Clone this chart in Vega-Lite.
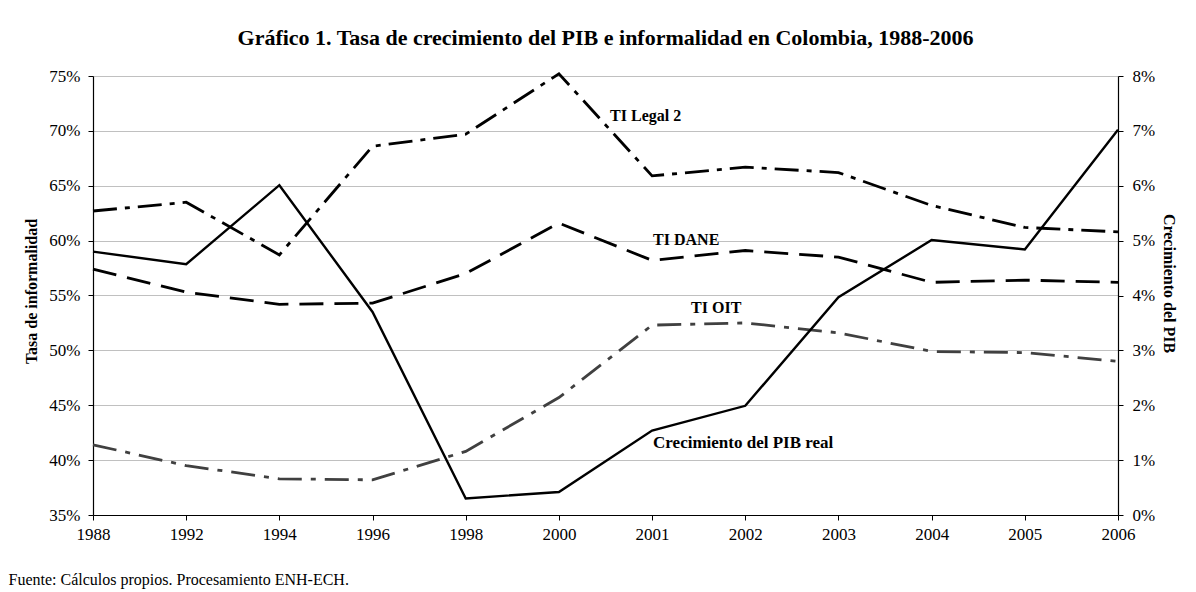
{
  "$schema": "https://vega.github.io/schema/vega-lite/v6.json",
  "autosize": {"type": "none"},
  "width": 1025,
  "height": 439,
  "padding": {"left": 93, "top": 76, "right": 78, "bottom": 77},
  "background": "white",
  "title": {
    "text": "Gráfico 1. Tasa de crecimiento del PIB e informalidad en Colombia, 1988-2006",
    "font": "Liberation Serif",
    "fontSize": 22,
    "fontWeight": "bold",
    "color": "black",
    "anchor": "middle",
    "baseline": "alphabetic",
    "offset": 0
  },
  "datasets": {
    "ti": [
      {"year": "1988", "serie": "TI Legal 2", "value": 0.627},
      {"year": "1992", "serie": "TI Legal 2", "value": 0.635},
      {"year": "1994", "serie": "TI Legal 2", "value": 0.587},
      {"year": "1996", "serie": "TI Legal 2", "value": 0.686},
      {"year": "1998", "serie": "TI Legal 2", "value": 0.697},
      {"year": "2000", "serie": "TI Legal 2", "value": 0.752},
      {"year": "2001", "serie": "TI Legal 2", "value": 0.659},
      {"year": "2002", "serie": "TI Legal 2", "value": 0.667},
      {"year": "2003", "serie": "TI Legal 2", "value": 0.662},
      {"year": "2004", "serie": "TI Legal 2", "value": 0.632},
      {"year": "2005", "serie": "TI Legal 2", "value": 0.612},
      {"year": "2006", "serie": "TI Legal 2", "value": 0.608},
      {"year": "1988", "serie": "TI DANE", "value": 0.574},
      {"year": "1992", "serie": "TI DANE", "value": 0.553},
      {"year": "1994", "serie": "TI DANE", "value": 0.542},
      {"year": "1996", "serie": "TI DANE", "value": 0.543},
      {"year": "1998", "serie": "TI DANE", "value": 0.570},
      {"year": "2000", "serie": "TI DANE", "value": 0.616},
      {"year": "2001", "serie": "TI DANE", "value": 0.582},
      {"year": "2002", "serie": "TI DANE", "value": 0.591},
      {"year": "2003", "serie": "TI DANE", "value": 0.585},
      {"year": "2004", "serie": "TI DANE", "value": 0.562},
      {"year": "2005", "serie": "TI DANE", "value": 0.564},
      {"year": "2006", "serie": "TI DANE", "value": 0.562},
      {"year": "1988", "serie": "TI OIT", "value": 0.414},
      {"year": "1992", "serie": "TI OIT", "value": 0.395},
      {"year": "1994", "serie": "TI OIT", "value": 0.383},
      {"year": "1996", "serie": "TI OIT", "value": 0.382},
      {"year": "1998", "serie": "TI OIT", "value": 0.408},
      {"year": "2000", "serie": "TI OIT", "value": 0.457},
      {"year": "2001", "serie": "TI OIT", "value": 0.523},
      {"year": "2002", "serie": "TI OIT", "value": 0.525},
      {"year": "2003", "serie": "TI OIT", "value": 0.516},
      {"year": "2004", "serie": "TI OIT", "value": 0.499},
      {"year": "2005", "serie": "TI OIT", "value": 0.498},
      {"year": "2006", "serie": "TI OIT", "value": 0.490}
    ],
    "pib": [
      {"year": "1988", "pib": 0.0480},
      {"year": "1992", "pib": 0.0457},
      {"year": "1994", "pib": 0.0601},
      {"year": "1996", "pib": 0.0370},
      {"year": "1998", "pib": 0.0030},
      {"year": "2000", "pib": 0.0042},
      {"year": "2001", "pib": 0.0154},
      {"year": "2002", "pib": 0.0199},
      {"year": "2003", "pib": 0.0397},
      {"year": "2004", "pib": 0.0501},
      {"year": "2005", "pib": 0.0484},
      {"year": "2006", "pib": 0.0702}
    ],
    "labels": [
      {"year": "2001", "value": 0.7136, "label": "TI Legal 2"},
      {"year": "2001", "value": 0.6006, "label": "TI DANE"},
      {"year": "2001", "value": 0.5386, "label": "TI OIT"},
      {"year": "2001", "value": 0.4156, "label": "Crecimiento del PIB real"}
    ]
  },
  "config": {
    "view": {"stroke": null},
    "axis": {
      "labelFont": "Liberation Serif",
      "labelFontSize": 17,
      "labelColor": "black",
      "titleFont": "Liberation Serif",
      "titleFontSize": 16,
      "titleFontWeight": "bold",
      "titleColor": "black",
      "domainColor": "black",
      "domainWidth": 1.2,
      "tickColor": "black",
      "tickSize": 5,
      "tickWidth": 1
    }
  },
  "encoding": {
    "x": {
      "field": "year",
      "type": "ordinal",
      "scale": {"padding": 0},
      "axis": {
        "title": "Fuente: Cálculos propios. Procesamiento ENH-ECH.",
        "titleFontWeight": "normal",
        "titleFontSize": 16,
        "titleAlign": "left",
        "titleAnchor": "start",
        "titleBaseline": "alphabetic",
        "titleX": -85,
        "titleY": 69,
        "labelAngle": 0,
        "labelPadding": 6,
        "grid": false
      }
    }
  },
  "layer": [
    {
      "layer": [
        {
          "data": {"name": "ti"},
          "mark": {"type": "line", "strokeWidth": 2.8},
          "encoding": {
            "y": {
              "field": "value",
              "type": "quantitative",
              "scale": {"domain": [0.35, 0.75], "nice": false, "zero": false},
              "axis": {
                "title": "Tasa de informalidad",
                "format": ".0%",
                "values": [0.35, 0.4, 0.45, 0.5, 0.55, 0.6, 0.65, 0.7, 0.75],
                "grid": true,
                "gridColor": "#c0c0c0",
                "gridWidth": 1,
                "labelPadding": 8,
                "titlePadding": 9,
                "titleY": 215
              }
            },
            "color": {
              "field": "serie",
              "type": "nominal",
              "scale": {"domain": ["TI Legal 2", "TI DANE", "TI OIT"], "range": ["#000000", "#000000", "#404040"]},
              "legend": null
            },
            "strokeDash": {
              "field": "serie",
              "type": "nominal",
              "scale": {"domain": ["TI Legal 2", "TI DANE", "TI OIT"], "range": [[24, 8, 5, 8], [24, 11], [24, 9, 5, 9]]},
              "legend": null
            }
          }
        },
        {
          "data": {"name": "labels"},
          "transform": [{"filter": "datum.label === 'TI DANE'"}],
          "mark": {"type": "text", "align": "left", "baseline": "middle", "font": "Liberation Serif", "fontSize": 16, "fontWeight": "bold", "color": "black", "dx": 1},
          "encoding": {
            "y": {"field": "value", "type": "quantitative"},
            "text": {"field": "label"}
          }
        },
        {
          "data": {"name": "labels"},
          "transform": [{"filter": "datum.label === 'Crecimiento del PIB real'"}],
          "mark": {"type": "text", "align": "left", "baseline": "middle", "font": "Liberation Serif", "fontSize": 17, "fontWeight": "bold", "color": "black", "dx": 1},
          "encoding": {
            "y": {"field": "value", "type": "quantitative"},
            "text": {"field": "label"}
          }
        },
        {
          "data": {"name": "labels"},
          "transform": [{"filter": "datum.label === 'TI Legal 2'"}],
          "mark": {"type": "text", "align": "left", "baseline": "middle", "font": "Liberation Serif", "fontSize": 16, "fontWeight": "bold", "color": "black", "dx": -42},
          "encoding": {
            "y": {"field": "value", "type": "quantitative"},
            "text": {"field": "label"}
          }
        },
        {
          "data": {"name": "labels"},
          "transform": [{"filter": "datum.label === 'TI OIT'"}],
          "mark": {"type": "text", "align": "left", "baseline": "middle", "font": "Liberation Serif", "fontSize": 16, "fontWeight": "bold", "color": "black", "dx": 39},
          "encoding": {
            "y": {"field": "value", "type": "quantitative"},
            "text": {"field": "label"}
          }
        }
      ]
    },
    {
      "data": {"name": "pib"},
      "mark": {"type": "line", "strokeWidth": 2.4, "color": "black"},
      "encoding": {
        "y": {
          "field": "pib",
          "type": "quantitative",
          "scale": {"domain": [0, 0.08], "nice": false},
          "axis": {
            "orient": "right",
            "title": "Crecimiento del PIB",
            "format": ".0%",
            "values": [0, 0.01, 0.02, 0.03, 0.04, 0.05, 0.06, 0.07, 0.08],
            "grid": false,
            "labelPadding": 9,
            "titlePadding": 6,
            "titleY": 207
          }
        }
      }
    }
  ],
  "resolve": {"scale": {"y": "independent"}}
}
